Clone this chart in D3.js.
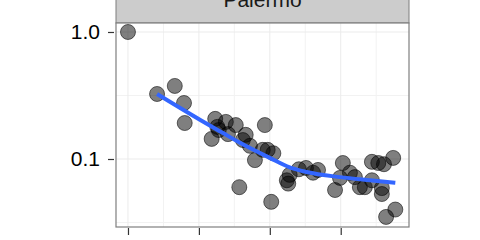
<!DOCTYPE html>
<html>
<head>
<meta charset="utf-8">
<script src="https://cdn.jsdelivr.net/npm/d3@7"></script>
<style>
  body { margin: 0; background: white; }
  text { font-family: "Liberation Sans", Arial, sans-serif; }
</style>
</head>
<body>
<div id="dataviz_palermo"></div>
<script>

// facet name
var facetName = "Palermo";

// points (x, ratio on log scale)
var xValues = [0, 4.1, 6.6, 7.9, 8.0, 12.3, 11.8, 12.6, 13.8, 15.2, 12.8, 14.1, 16.6, 16.2, 17.2, 19.0,
  17.9, 19.3, 19.7, 20.5, 15.7, 20.2, 22.4, 22.6, 22.8, 24.1, 25.1, 26.1, 26.8, 29.2, 30.3,
  31.3, 32.0, 32.7, 33.4, 34.4, 35.3, 36.1, 37.4, 34.4, 35.8, 35.8, 36.4, 37.7, 29.9];
var yValues = [1.0, 0.325, 0.376, 0.276, 0.192, 0.207, 0.144, 0.179, 0.196, 0.185, 0.169, 0.157, 0.155, 0.141, 0.127, 0.118,
  0.098, 0.185, 0.118, 0.111, 0.060, 0.046, 0.068, 0.064, 0.075, 0.083, 0.085, 0.078, 0.082, 0.057, 0.093,
  0.078, 0.072, 0.060, 0.060, 0.095, 0.093, 0.091, 0.102, 0.068, 0.059, 0.053, 0.035, 0.040, 0.071];

// smoothed trend
var smoothX = [4.1, 10.2, 13.4, 15.8, 20.0, 22.8, 25.2, 29.9, 34.1, 37.7];
var smoothY = [0.325, 0.203, 0.160, 0.134, 0.102, 0.086, 0.079, 0.072, 0.068, 0.065];

// axis breaks
var xTicks = [0, 10, 20, 30];
var xMinor = [5, 15, 25, 35];
var yTicks = [1, 0.1];
var yTickLabels = ["1.0", "0.1"];
var yMinor = [0.316, 0.0316];

var data = xValues.map(function(d, i){ return {x: d, y: yValues[i]} });
var smooth = smoothX.map(function(d, i){ return {x: d, y: smoothY[i]} });

var width = 480, height = 240;
var panel = {left: 116, top: 23, right: 409, bottom: 227};

var svg = d3.select("#dataviz_palermo")
  .append("svg")
    .attr("width", width)
    .attr("height", height)
    .style('background', 'white');

var x = d3.scaleLinear()
  .domain([-1.69, 39.63])
  .range([panel.left, panel.right]);

var y = d3.scaleLog()
  .domain([1.177, 0.02915])
  .range([panel.top, panel.bottom]);

// strip on top of the panel
svg.append("rect")
  .attr("x", panel.left)
  .attr("y", -10)
  .attr("width", panel.right - panel.left)
  .attr("height", panel.top + 10)
  .attr("fill", "#cccccc")
  .attr("stroke", "#7f7f7f")
  .attr("stroke-width", 1);

svg.append("text")
  .attr("x", (panel.left + panel.right) / 2)
  .attr("y", 7)
  .attr("text-anchor", "middle")
  .style("font-size", "21px")
  .style("fill", "#1a1a1a")
  .text(facetName);

// panel background + grid
svg.append("rect")
  .attr("x", panel.left)
  .attr("y", panel.top)
  .attr("width", panel.right - panel.left)
  .attr("height", panel.bottom - panel.top)
  .attr("fill", "white");

var grid = svg.append("g");
grid.selectAll(".xminor").data(xMinor).enter().append("line")
  .attr("x1", function(d){ return x(d) }).attr("x2", function(d){ return x(d) })
  .attr("y1", panel.top).attr("y2", panel.bottom)
  .attr("stroke", "#f2f2f2").attr("stroke-width", 1);
grid.selectAll(".yminor").data(yMinor).enter().append("line")
  .attr("y1", function(d){ return y(d) }).attr("y2", function(d){ return y(d) })
  .attr("x1", panel.left).attr("x2", panel.right)
  .attr("stroke", "#f2f2f2").attr("stroke-width", 1);
grid.selectAll(".xmajor").data(xTicks).enter().append("line")
  .attr("x1", function(d){ return x(d) }).attr("x2", function(d){ return x(d) })
  .attr("y1", panel.top).attr("y2", panel.bottom)
  .attr("stroke", "#ebebeb").attr("stroke-width", 1);
grid.selectAll(".ymajor").data(yTicks).enter().append("line")
  .attr("y1", function(d){ return y(d) }).attr("y2", function(d){ return y(d) })
  .attr("x1", panel.left).attr("x2", panel.right)
  .attr("stroke", "#ebebeb").attr("stroke-width", 1);

// points
svg.append("g")
  .selectAll("circle")
  .data(data)
  .enter()
  .append("circle")
    .attr("cx", function(d){ return x(d.x) })
    .attr("cy", function(d){ return y(d.y) })
    .attr("r", 7.5)
    .style("fill", "black")
    .style("fill-opacity", 0.5)
    .attr("stroke", "black")
    .style("stroke-opacity", 0.55)
    .style("stroke-width", 1);

// smooth line
var line = d3.line()
  .x(function(d){ return x(d.x) })
  .y(function(d){ return y(d.y) })
  .curve(d3.curveMonotoneX);

svg.append("path")
  .datum(smooth)
  .attr("d", line)
  .attr("fill", "none")
  .attr("stroke", "#3366ff")
  .attr("stroke-width", 4);

// panel border
svg.append("rect")
  .attr("x", panel.left)
  .attr("y", panel.top)
  .attr("width", panel.right - panel.left)
  .attr("height", panel.bottom - panel.top)
  .attr("fill", "none")
  .attr("stroke", "#7f7f7f")
  .attr("stroke-width", 1.2);

// axes
var yAxis = svg.append("g")
  .attr("transform", "translate(" + (panel.left - 2) + ",0)")
  .call(d3.axisLeft(y).tickValues(yTicks).tickSize(6).tickPadding(8)
    .tickFormat(function(d, i){ return yTickLabels[i] }));
yAxis.select(".domain").remove();
yAxis.selectAll("line").attr("stroke", "#333333").attr("stroke-width", 1.2);
yAxis.selectAll("text")
  .style("font-size", "21px")
  .style("font-family", "'Liberation Sans', Arial, sans-serif")
  .style("fill", "#000");

var xAxis = svg.append("g")
  .attr("transform", "translate(0," + (panel.bottom + 1) + ")")
  .call(d3.axisBottom(x).tickValues(xTicks).tickSize(7).tickFormat(""));
xAxis.select(".domain").remove();
xAxis.selectAll("line").attr("stroke", "#333333").attr("stroke-width", 1.2);

</script>
</body>
</html>
